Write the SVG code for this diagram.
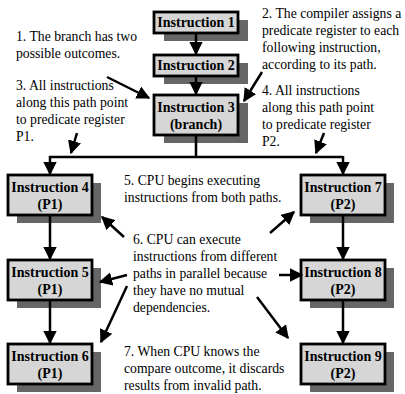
<svg xmlns="http://www.w3.org/2000/svg" width="405" height="394" viewBox="0 0 405 394">
<style>
.sh{fill:#666}
.bx{fill:#d6d6d6;stroke:#000;stroke-width:2.8}
.bt{font-family:"Liberation Serif",serif;font-weight:bold;font-size:14px;text-anchor:middle;fill:#000}
.nt{font-family:"Liberation Serif",serif;font-size:13.7px;fill:#000}
.ln{stroke:#000;stroke-width:2.5;fill:none}
</style>
<defs>
<marker id="ah" viewBox="0 0 10 10" refX="9" refY="5" markerWidth="5.4" markerHeight="5.4" markerUnits="strokeWidth" orient="auto">
<path d="M0,0 L10,5 L0,10 z" fill="#000"/>
</marker>
</defs>
<rect width="405" height="394" fill="#fff"/>
<g id="n1"><rect class="sh" x="164" y="20" width="84" height="21"/><rect class="bx" x="154" y="12" width="84" height="21"/><text class="bt" x="196" y="27">Instruction 1</text></g>
<g id="n2"><rect class="sh" x="164" y="63" width="84" height="21"/><rect class="bx" x="154" y="55" width="84" height="21"/><text class="bt" x="196" y="70">Instruction 2</text></g>
<g id="n3"><rect class="sh" x="164" y="103" width="84" height="40"/><rect class="bx" x="154" y="95" width="84" height="40"/><text class="bt" x="196" y="112">Instruction 3</text><text class="bt" x="196" y="129">(branch)</text></g>
<g id="n4"><rect class="sh" x="17" y="183" width="84" height="40"/><rect class="bx" x="8" y="175" width="84" height="40"/><text class="bt" x="50" y="192">Instruction 4</text><text class="bt" x="50" y="209">(P1)</text></g>
<g id="n5"><rect class="sh" x="17" y="268" width="84" height="40"/><rect class="bx" x="8" y="260" width="84" height="40"/><text class="bt" x="50" y="277">Instruction 5</text><text class="bt" x="50" y="294">(P1)</text></g>
<g id="n6"><rect class="sh" x="17" y="352" width="84" height="40"/><rect class="bx" x="8" y="344" width="84" height="40"/><text class="bt" x="50" y="361">Instruction 6</text><text class="bt" x="50" y="378">(P1)</text></g>
<g id="n7"><rect class="sh" x="310" y="183" width="84" height="40"/><rect class="bx" x="301" y="175" width="84" height="40"/><text class="bt" x="343" y="192">Instruction 7</text><text class="bt" x="343" y="209">(P2)</text></g>
<g id="n8"><rect class="sh" x="310" y="268" width="84" height="40"/><rect class="bx" x="301" y="260" width="84" height="40"/><text class="bt" x="343" y="277">Instruction 8</text><text class="bt" x="343" y="294">(P2)</text></g>
<g id="n9"><rect class="sh" x="310" y="352" width="84" height="40"/><rect class="bx" x="301" y="344" width="84" height="40"/><text class="bt" x="343" y="361">Instruction 9</text><text class="bt" x="343" y="378">(P2)</text></g>
<g id="notes">
<text class="nt" x="16" y="41">1. The branch has two</text>
<text class="nt" x="16" y="58">possible outcomes.</text>
<text class="nt" x="262" y="18">2. The compiler assigns a</text>
<text class="nt" x="262" y="35">predicate register to each</text>
<text class="nt" x="262" y="52">following instruction,</text>
<text class="nt" x="262" y="69">according to its path.</text>
<text class="nt" x="16" y="90">3. All instructions</text>
<text class="nt" x="16" y="107">along this path point</text>
<text class="nt" x="16" y="124">to predicate register</text>
<text class="nt" x="16" y="141">P1.</text>
<text class="nt" x="262" y="95">4. All instructions</text>
<text class="nt" x="262" y="112">along this path point</text>
<text class="nt" x="262" y="129">to predicate register</text>
<text class="nt" x="262" y="146">P2.</text>
<text class="nt" x="124" y="185">5. CPU begins executing</text>
<text class="nt" x="124" y="202">instructions from both paths.</text>
<text class="nt" x="133" y="244">6. CPU can execute</text>
<text class="nt" x="133" y="261">instructions from different</text>
<text class="nt" x="133" y="278">paths in parallel because</text>
<text class="nt" x="133" y="295">they have no mutual</text>
<text class="nt" x="133" y="312">dependencies.</text>
<text class="nt" x="124" y="356">7. When CPU knows the</text>
<text class="nt" x="124" y="373">compare outcome, it discards</text>
<text class="nt" x="124" y="390">results from invalid path.</text>
</g>
<g id="connectors">
<line class="ln" x1="196" y1="33" x2="196" y2="54" marker-end="url(#ah)"/>
<line class="ln" x1="196" y1="76" x2="196" y2="94" marker-end="url(#ah)"/>
<polyline class="ln" points="196,135 196,157"/>
<line class="ln" x1="49" y1="157" x2="343" y2="157"/>
<line class="ln" x1="50" y1="156" x2="50" y2="174" marker-end="url(#ah)"/>
<line class="ln" x1="343" y1="156" x2="343" y2="174" marker-end="url(#ah)"/>
<line class="ln" x1="50" y1="215" x2="50" y2="259" marker-end="url(#ah)"/>
<line class="ln" x1="50" y1="300" x2="50" y2="343" marker-end="url(#ah)"/>
<line class="ln" x1="343" y1="215" x2="343" y2="259" marker-end="url(#ah)"/>
<line class="ln" x1="343" y1="300" x2="343" y2="343" marker-end="url(#ah)"/>
<line class="ln" x1="107" y1="77" x2="149" y2="98" marker-end="url(#ah)"/>
<line class="ln" x1="262" y1="72" x2="244" y2="101" marker-end="url(#ah)"/>
<line class="ln" x1="77" y1="133" x2="71" y2="153" marker-end="url(#ah)"/>
<line class="ln" x1="324" y1="133" x2="316" y2="153" marker-end="url(#ah)"/>
<line class="ln" x1="124" y1="237" x2="102" y2="217" marker-end="url(#ah)"/>
<line class="ln" x1="270" y1="233" x2="294" y2="212" marker-end="url(#ah)"/>
<line class="ln" x1="127" y1="275" x2="100" y2="282" marker-end="url(#ah)"/>
<line class="ln" x1="279" y1="275" x2="302" y2="275" marker-end="url(#ah)"/>
<line class="ln" x1="127" y1="286" x2="101" y2="342" marker-end="url(#ah)"/>
<line class="ln" x1="257" y1="297" x2="288" y2="338" marker-end="url(#ah)"/>
</g>
</svg>
